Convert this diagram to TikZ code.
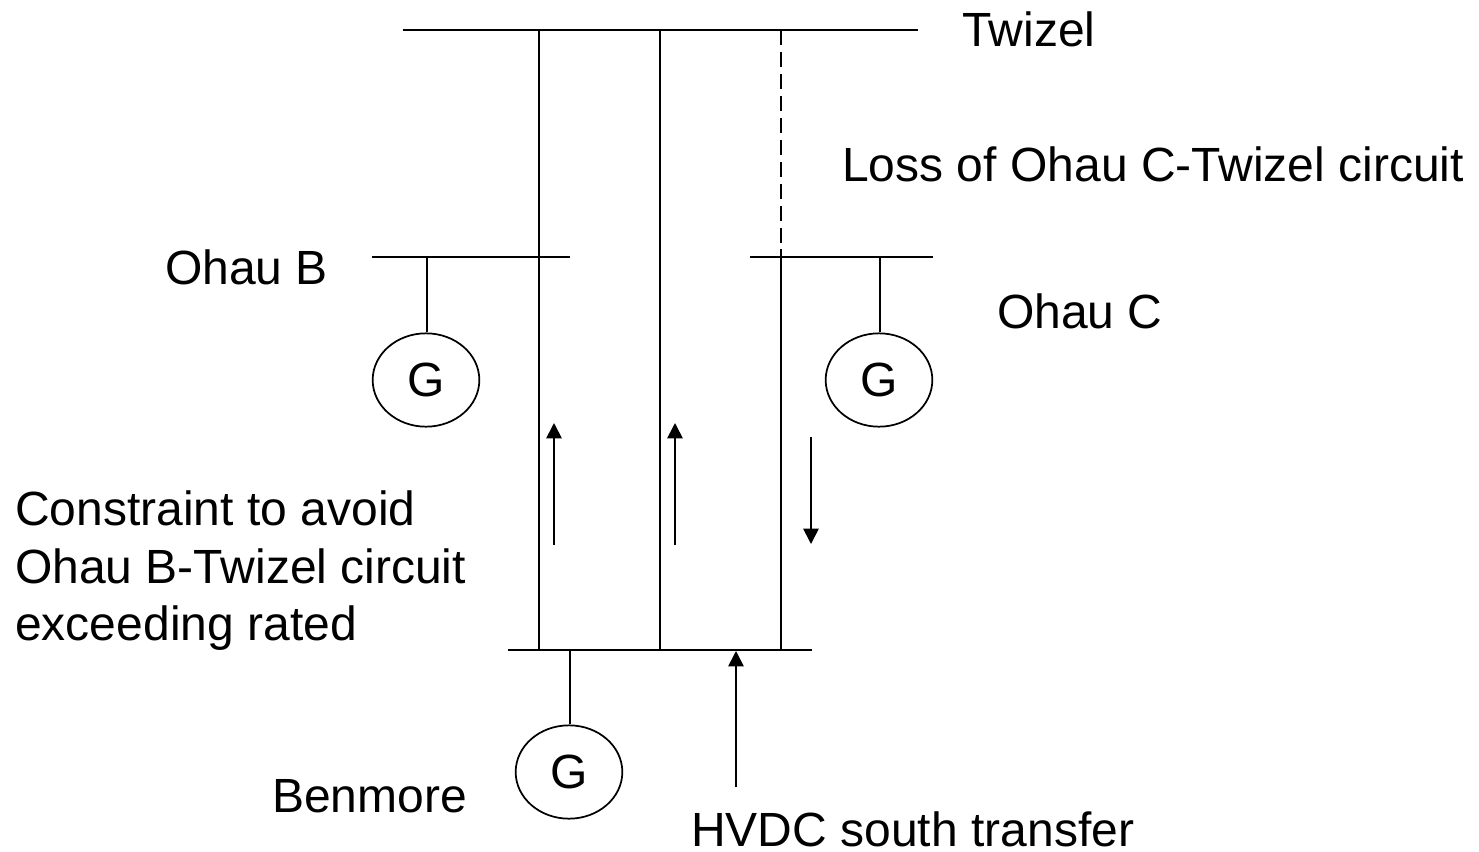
\documentclass[tikz,border=0pt]{standalone}
\usepackage{fontspec}
\setmainfont{Liberation Sans}
\usetikzlibrary{arrows.meta,shapes.geometric}
\tikzset{
  x=0.75pt,y=-0.75pt,
  ln/.style={line width=1.3pt,black},
  arr/.style={ln,-{Triangle[length=11.5pt,width=11.5pt]}},
  lbl/.style={inner sep=0pt,anchor=base west,font=\fontsize{36}{42}\selectfont,text=black},
  gen/.style={draw=black,line width=1.3pt,ellipse,minimum width=80pt,minimum height=70pt,inner sep=0pt,font=\fontsize{36}{42}\selectfont},
}
\begin{document}
\begin{tikzpicture}
\useasboundingbox (0,0) rectangle (1479,851);
\fill[white] (0,0) rectangle (1479,851);
\coordinate (tw1) at (403,30); \coordinate (tw2) at (918,30);
\coordinate (ob1) at (372,257); \coordinate (ob2) at (570,257);
\coordinate (oc1) at (750,257); \coordinate (oc2) at (933,257);
\coordinate (bm1) at (508,650); \coordinate (bm2) at (812,650);
\draw[ln] (tw1) -- (tw2);
\draw[ln] (ob1) -- (ob2);
\draw[ln] (oc1) -- (oc2);
\draw[ln] (bm1) -- (bm2);
\coordinate (a1) at (539,30); \coordinate (a2) at (539,650);
\coordinate (b1) at (660,30); \coordinate (b2) at (660,650);
\coordinate (c1) at (781,30); \coordinate (c2) at (781,249); \coordinate (c3) at (781,650);
\draw[ln] (a1) -- (a2);
\draw[ln] (b1) -- (b2);
\draw[ln,dash pattern=on 11pt off 5.5pt] (c1) -- (c2);
\draw[ln] (c2) -- (c3);
\node[gen] (g1) at (426,380) {G};
\node[gen] (g2) at (879,380) {G};
\node[gen] (g3) at (569,772) {G};
\coordinate (s1) at (427,257); \coordinate (s2) at (880,257); \coordinate (s3) at (570,650);
\draw[ln] (s1) -- (s1 |- g1.north);
\draw[ln] (s2) -- (s2 |- g2.north);
\draw[ln] (s3) -- (s3 |- g3.north);
\coordinate (p1) at (554,545); \coordinate (p2) at (554,423);
\coordinate (q1) at (675,545); \coordinate (q2) at (675,423);
\coordinate (r1) at (811,437); \coordinate (r2) at (811,544);
\coordinate (h1) at (736,787); \coordinate (h2) at (736,651);
\draw[arr] (p1) -- (p2);
\draw[arr] (q1) -- (q2);
\draw[arr] (r1) -- (r2);
\draw[arr] (h1) -- (h2);
\node[lbl] (t1) at (962,46) {Twizel};
\node[lbl] (t2) at (842,181) {Loss of Ohau C-Twizel circuit};
\node[lbl] (t3) at (165,284) {Ohau B};
\node[lbl] (t4) at (997,328) {Ohau C};
\node[lbl] (t5) at (15,525) {Constraint to avoid};
\node[lbl] (t6) at (15,583) {Ohau B-Twizel circuit};
\node[lbl] (t7) at (15,640) {exceeding rated};
\node[lbl] (t8) at (272,812) {Benmore};
\node[lbl] (t9) at (691,846) {HVDC south transfer};
\end{tikzpicture}
\end{document}
